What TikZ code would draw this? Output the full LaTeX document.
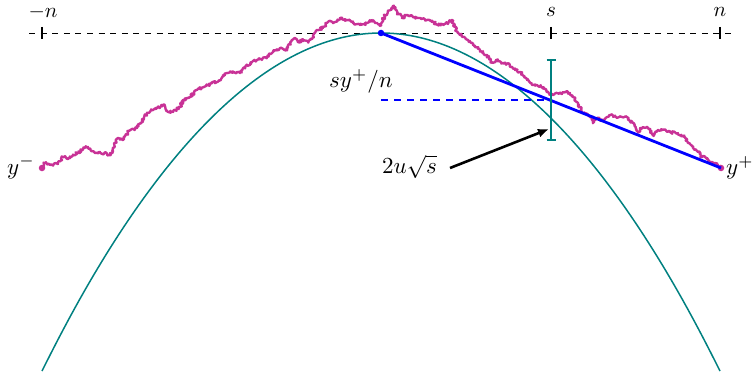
\documentclass[tikz,border=0pt]{standalone}
\usepackage{graphicx}
\usetikzlibrary{arrows.meta,decorations.pathmorphing}
\definecolor{walkc}{RGB}{200,50,150}
\definecolor{parc}{RGB}{0,128,128}
\definecolor{linec}{RGB}{0,0,255}
\newcommand{\toptext}[1]{\scalebox{2.1}{#1}}
\newcommand{\maintext}[1]{\scalebox{2.3}{#1}}
\pgfmathsetseed{7}
\begin{document}
\begin{tikzpicture}[x=1pt,y=-1pt,
  axisline/.style={black, line width=0.8pt, dash pattern=on 6pt off 5.6pt},
  axtick/.style={black, line width=1.1pt},
  toplab/.style={anchor=base, inner sep=0pt},
  mainlab/.style={anchor=base west, inner sep=0pt},
  walk/.style={walkc, line width=2.4pt, line join=round, decorate,
    decoration={random steps, segment length=1.1pt, amplitude=1.4pt}},
  parab/.style={parc, line width=1.5pt},
  chord/.style={linec, line width=2.8pt},
  chorddash/.style={linec, line width=1.5pt, dash pattern=on 7pt off 6pt},
  errbar/.style={parc, line width=2.6pt},
  pointer/.style={black, line width=2.6pt, -{Latex[length=11pt,width=9pt]}},
  walkdot/.style={fill=walkc, circle, inner sep=0pt, minimum size=6.5pt},
  chorddot/.style={fill=linec, circle, inner sep=0pt, minimum size=6.5pt}]
\useasboundingbox (0,0) rectangle (752,377);

% axis
\coordinate (axL) at (29,33);
\coordinate (axR) at (735,33);
\draw[axisline] (axL) -- (axR);
\coordinate (tmn) at (42,33);
\coordinate (ts) at (551,33);
\coordinate (tn) at (720,33);
\foreach \c in {tmn,ts,tn}{\draw[axtick] ([yshift=6pt]\c) -- ([yshift=-6pt]\c);}
\node[toplab] (lmn) at (43,17.5) {\toptext{$-n$}};
\node[toplab] (ls) at (551,16.5) {\toptext{$s$}};
\node[toplab] (ln) at (720,16.5) {\toptext{$n$}};

% parabola
\coordinate (pl) at (42,371);
\coordinate (P) at (381,33);
\coordinate (pr) at (720,371);
\draw[parab] (pl) parabola bend (P) (pr);

% walk
\coordinate (L) at (42,168);
\coordinate (R) at (721,168);
\draw[walk] plot coordinates {(42,168) (45,163) (50,165) (58,164) (63,157) (70,158) (77,153) (85,148) (88,147) (95,153) (100,152) (110,155) (118,138) (123,140) (128,132) (137,128) (147,113) (153,110) (157,108) (163,105) (168,112) (173,112) (180,107) (183,100) (190,97) (197,90) (207,85) (217,82) (227,73) (237,72) (240,73) (247,65) (257,60) (267,57) (273,52) (280,48) (287,50) (290,43) (295,38) (298,42) (303,40) (308,42) (313,37) (317,30) (323,28) (328,22) (335,22) (340,18) (347,20) (353,23) (360,25) (367,23) (372,20) (377,23) (380,26) (385,15) (390,10) (393,6) (397,12) (402,18) (407,15) (413,17) (420,18) (427,20) (433,22) (440,25) (447,23) (452,20) (455,27) (458,33) (463,37) (468,40) (473,45) (480,50) (487,55) (492,63) (497,60) (503,63) (510,65) (515,70) (520,72) (527,80) (533,85) (537,85) (542,87) (547,92) (553,95) (560,93) (565,92) (570,93) (573,97) (578,103) (582,112) (587,115) (592,117) (593,123) (597,118) (602,120) (607,117) (612,115) (617,118) (622,117) (628,118) (633,123) (638,132) (643,127) (648,128) (653,135) (658,130) (663,130) (670,132) (678,133) (685,137) (688,143) (693,147) (698,152) (702,157) (707,158) (712,162) (715,163) (718,165) (721,168)};
\node[walkdot] (dL) at (L) {};
\node[walkdot] (dR) at (R) {};

% chord and its level
\draw[chord] (P) -- (R);
\coordinate (hl) at (381,100);
\coordinate (hr) at (551,100);
\draw[chorddash] (hl) -- (hr);
\node[chorddot] (dP) at (P) {};

% error bar
\coordinate (eT) at (551,60);
\coordinate (eB) at (551,140);
\draw[errbar] (eT) -- (eB);
\draw[errbar] ([xshift=-4.5pt]eT) -- ([xshift=4.5pt]eT);
\draw[errbar] ([xshift=-4.5pt]eB) -- ([xshift=4.5pt]eB);

% labels
\node[mainlab] (ym) at (7,174) {\maintext{$y^-$}};
\node[mainlab] (yp) at (726,175) {\maintext{$y^+$}};
\node[mainlab] (lev) at (329,88) {\maintext{$sy^+/n$}};
\node[mainlab] (wid) at (382,173) {\maintext{$2u\sqrt{s}$}};

% arrow
\coordinate (aS) at (450,168);
\coordinate (aE) at (549,129);
\draw[pointer] (aS) -- (aE);
\end{tikzpicture}
\end{document}
